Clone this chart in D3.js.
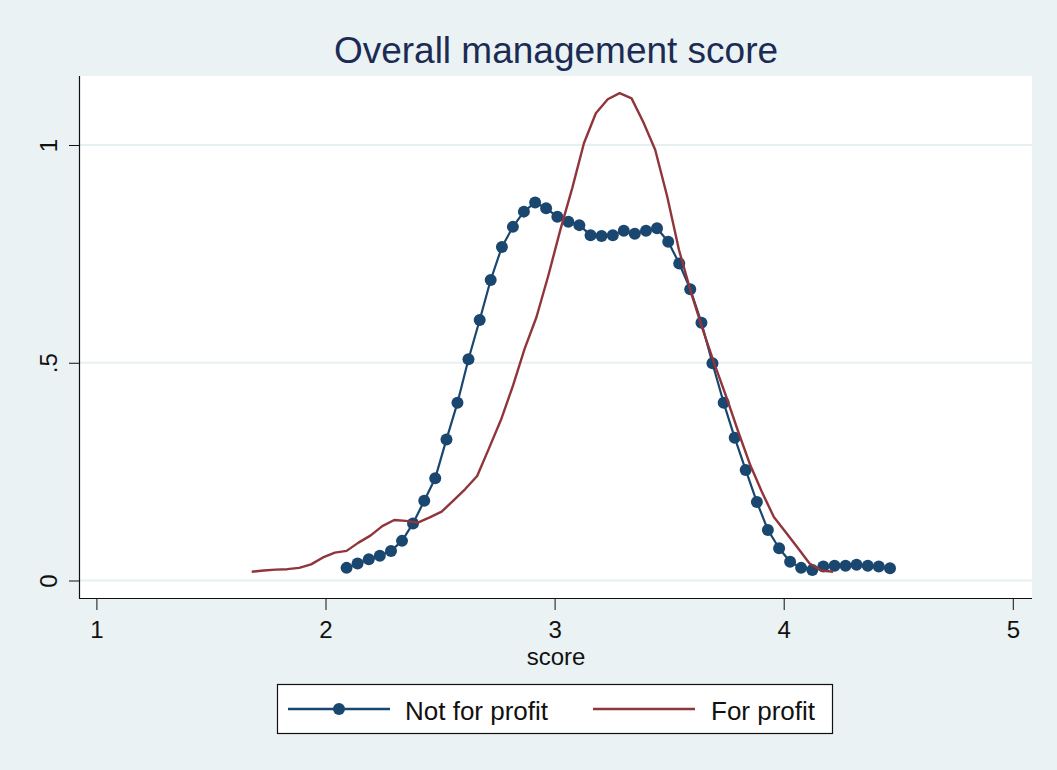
<!DOCTYPE html>
<html>
<head>
<meta charset="utf-8">
<title>Overall management score</title>
<script src="https://cdn.jsdelivr.net/npm/d3@7"></script>
<style>
  html, body { margin: 0; padding: 0; background: #eaf2f3; }
  svg { display: block; font-family: "Liberation Sans", Arial, sans-serif; }
</style>
</head>
<body>
<svg id="chart" width="1057" height="770"></svg>
<script>
// kernel density, not for profit hospitals (points drawn with markers)
const nfpScore = [2.092, 2.140, 2.189, 2.237, 2.286, 2.334, 2.382, 2.431, 2.479, 2.528,
                  2.576, 2.624, 2.673, 2.721, 2.770, 2.818, 2.866, 2.915, 2.963, 3.012,
                  3.060, 3.108, 3.157, 3.205, 3.254, 3.302, 3.350, 3.399, 3.447, 3.496,
                  3.544, 3.592, 3.641, 3.689, 3.738, 3.786, 3.834, 3.883, 3.931, 3.980,
                  4.028, 4.076, 4.125, 4.173, 4.222, 4.270, 4.318, 4.367, 4.415, 4.464];
const nfpDensity = [0.029, 0.039, 0.049, 0.057, 0.068, 0.091, 0.131, 0.183, 0.235, 0.324,
                    0.408, 0.508, 0.598, 0.690, 0.766, 0.812, 0.847, 0.868, 0.855, 0.835,
                    0.824, 0.816, 0.793, 0.791, 0.793, 0.803, 0.796, 0.803, 0.809, 0.778,
                    0.728, 0.669, 0.592, 0.499, 0.408, 0.328, 0.254, 0.180, 0.116, 0.074,
                    0.043, 0.029, 0.024, 0.032, 0.034, 0.034, 0.036, 0.034, 0.032, 0.028];

// kernel density, for profit hospitals (plain line)
const fpScore = [1.678, 1.730, 1.782, 1.833, 1.885, 1.937, 1.989, 2.041, 2.092, 2.144,
                 2.196, 2.248, 2.300, 2.351, 2.403, 2.455, 2.507, 2.559, 2.610, 2.662,
                 2.714, 2.766, 2.818, 2.869, 2.921, 2.973, 3.025, 3.077, 3.128, 3.180,
                 3.232, 3.284, 3.336, 3.387, 3.439, 3.491, 3.543, 3.595, 3.646, 3.698,
                 3.750, 3.802, 3.854, 3.905, 3.957, 4.009, 4.061, 4.113, 4.164, 4.216];
const fpDensity = [0.020, 0.023, 0.025, 0.026, 0.029, 0.037, 0.053, 0.064, 0.068, 0.087,
                   0.103, 0.125, 0.139, 0.137, 0.133, 0.145, 0.158, 0.184, 0.210, 0.240,
                   0.304, 0.369, 0.447, 0.532, 0.605, 0.701, 0.805, 0.901, 1.004, 1.073,
                   1.105, 1.119, 1.107, 1.053, 0.989, 0.883, 0.759, 0.662, 0.577, 0.497,
                   0.421, 0.341, 0.265, 0.203, 0.146, 0.111, 0.075, 0.039, 0.023, 0.020];

const xTicks = [1, 2, 3, 4, 5];
const yTicks = [0, 0.5, 1];
const yTickLabels = ['0', '.5', '1'];
const seriesNames = ['Not for profit', 'For profit'];
const chartTitle = 'Overall management score';
const xTitle = 'score';

class DensityChart {
    constructor(svgSelector){
        this.$svg = d3.select(svgSelector);
        this.plot = { left: 80, right: 1032, top: 76, bottom: 598 };
        this.colors = { nfp: '#1a476f', fp: '#90353b', grid: '#e6eff1', ink: '#111' };

        this.scales = {
            x: d3.scaleLinear().domain([1, 5]).range([96.4, 1012.8]),
            y: d3.scaleLinear().domain([0, 1]).range([580.5, 145])
        };

        this.nfp = nfpScore.map((s, i) => ({ x: s, y: nfpDensity[i] }));
        this.fp = fpScore.map((s, i) => ({ x: s, y: fpDensity[i] }));
    }

    draw(){
        this.drawFrame();
        this.drawAxes();
        this.drawSeries();
        this.drawLegend();
    }

    drawFrame(){
        let p = this.plot;
        this.$svg.append('rect')
            .attr('width', 1057).attr('height', 770)
            .attr('fill', '#eaf2f3');

        this.$svg.append('rect')
            .attr('x', p.left).attr('y', p.top)
            .attr('width', p.right - p.left).attr('height', p.bottom - p.top)
            .attr('fill', '#fff');

        this.$svg.selectAll('.grid')
            .data(yTicks)
            .enter()
                .append('line')
                .attr('class', 'grid')
                .attr('x1', p.left).attr('x2', p.right)
                .attr('y1', d => this.scales.y(d)).attr('y2', d => this.scales.y(d))
                .attr('stroke', this.colors.grid)
                .attr('stroke-width', 2);

        this.$svg.append('text')
            .attr('x', (p.left + p.right) / 2)
            .attr('y', 63)
            .attr('text-anchor', 'middle')
            .attr('fill', '#1c2b54')
            .style('font-size', '37px')
            .text(chartTitle);
    }

    drawAxes(){
        let p = this.plot;

        let xAxis = this.$svg.append('g')
            .attr('transform', `translate(0,${p.bottom})`)
            .call(d3.axisBottom(this.scales.x).tickValues(xTicks).tickSize(12).tickSizeOuter(0).tickFormat(d3.format('d')));
        xAxis.select('.domain').remove();
        xAxis.selectAll('.tick line').attr('stroke', this.colors.ink);
        xAxis.selectAll('.tick text')
            .attr('y', 40).attr('dy', 0)
            .attr('fill', this.colors.ink)
            .style('font-size', '24px')
            .style('font-family', null);

        let yAxis = this.$svg.append('g')
            .attr('transform', `translate(${p.left},0)`)
            .call(d3.axisLeft(this.scales.y).tickValues(yTicks).tickSize(11).tickSizeOuter(0)
                .tickFormat((d, i) => yTickLabels[i]));
        yAxis.select('.domain').remove();
        yAxis.selectAll('.tick line').attr('stroke', this.colors.ink);
        yAxis.selectAll('.tick text')
            .attr('x', 0).attr('y', -23).attr('dy', 0)
            .attr('transform', 'rotate(-90)')
            .attr('text-anchor', 'middle')
            .attr('fill', this.colors.ink)
            .style('font-size', '24px')
            .style('font-family', null);

        // axis lines run the full plot region
        this.$svg.append('line')
            .attr('x1', p.left).attr('x2', p.right)
            .attr('y1', p.bottom + 0.5).attr('y2', p.bottom + 0.5)
            .attr('stroke', this.colors.ink).attr('stroke-width', 1.2);
        this.$svg.append('line')
            .attr('x1', p.left - 0.5).attr('x2', p.left - 0.5)
            .attr('y1', p.top).attr('y2', p.bottom + 1)
            .attr('stroke', this.colors.ink).attr('stroke-width', 1.2);

        this.$svg.append('text')
            .attr('x', (p.left + p.right) / 2)
            .attr('y', 665)
            .attr('text-anchor', 'middle')
            .attr('fill', this.colors.ink)
            .style('font-size', '24px')
            .text(xTitle);
    }

    drawSeries(){
        let line = d3.line()
            .x(d => this.scales.x(d.x))
            .y(d => this.scales.y(d.y));

        this.$svg.append('path')
            .datum(this.nfp)
            .attr('d', line)
            .attr('fill', 'none')
            .attr('stroke', this.colors.nfp)
            .attr('stroke-width', 2.2)
            .attr('stroke-linejoin', 'round');

        this.$svg.selectAll('.nfp-dot')
            .data(this.nfp)
            .enter()
                .append('circle')
                .attr('class', 'nfp-dot')
                .attr('cx', d => this.scales.x(d.x))
                .attr('cy', d => this.scales.y(d.y))
                .attr('r', 6)
                .attr('fill', this.colors.nfp);

        this.$svg.append('path')
            .datum(this.fp)
            .attr('d', line)
            .attr('fill', 'none')
            .attr('stroke', this.colors.fp)
            .attr('stroke-width', 2.4)
            .attr('stroke-linejoin', 'round');
    }

    drawLegend(){
        let legend = this.$svg.append('g');
        legend.append('rect')
            .attr('x', 277.5).attr('y', 684.5)
            .attr('width', 555).attr('height', 49)
            .attr('fill', '#fff')
            .attr('stroke', this.colors.ink)
            .attr('stroke-width', 1.2);

        let entries = [
            { name: seriesNames[0], color: this.colors.nfp, marker: true, x: 288 },
            { name: seriesNames[1], color: this.colors.fp, marker: false, x: 593 }
        ];

        let items = legend.selectAll('.item')
            .data(entries)
            .enter()
                .append('g')
                .attr('class', 'item')
                .attr('transform', d => `translate(${d.x},709)`);

        items.append('line')
            .attr('x1', 0).attr('x2', 102)
            .attr('stroke', d => d.color)
            .attr('stroke-width', 2.4);

        items.filter(d => d.marker)
            .append('circle')
            .attr('cx', 51).attr('r', 6)
            .attr('fill', d => d.color);

        items.append('text')
            .attr('x', d => d.marker ? 117 : 118)
            .attr('y', 11)
            .attr('fill', this.colors.ink)
            .style('font-size', '26px')
            .text(d => d.name);
    }
}

new DensityChart('#chart').draw();
</script>
</body>
</html>
